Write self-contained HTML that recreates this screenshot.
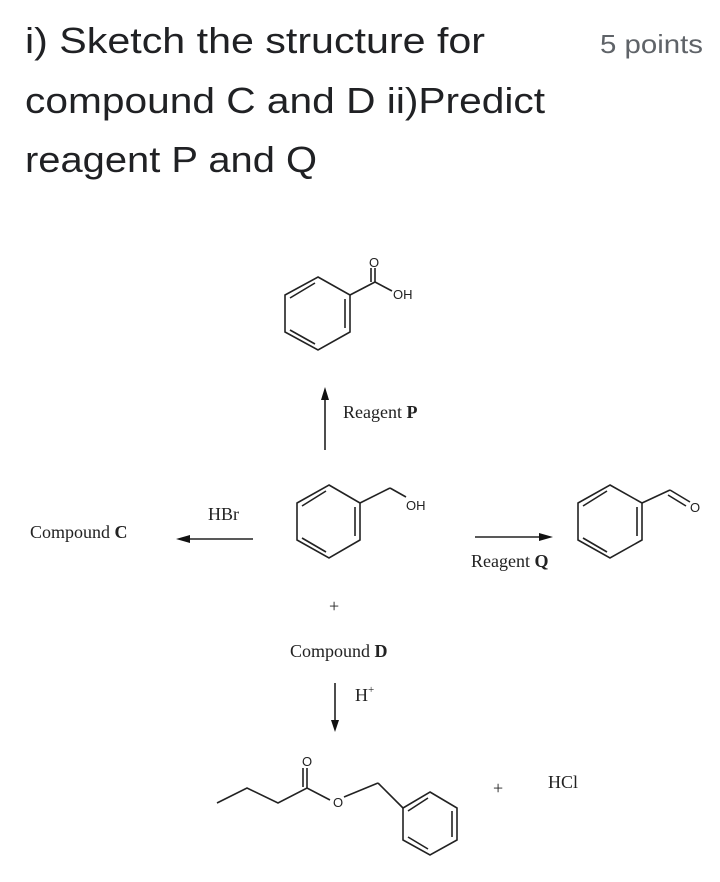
<!DOCTYPE html>
<html><head><meta charset="utf-8"><style>
html,body{margin:0;padding:0;background:#fff;}
svg{display:block;}
.h{font-family:"Liberation Sans",sans-serif;fill:#202124;}
.t{font-family:"Liberation Serif",serif;font-size:18px;fill:#222;}
.s{font-family:"Liberation Sans",sans-serif;font-size:13px;fill:#222;}
</style></head><body>
<svg width="720" height="882" viewBox="0 0 720 882" xmlns="http://www.w3.org/2000/svg">
<text class="h" x="25" y="53" font-size="36" textLength="460" lengthAdjust="spacingAndGlyphs">i) Sketch the structure for</text>
<text class="h" x="25" y="113" font-size="36" textLength="520" lengthAdjust="spacingAndGlyphs">compound C and D ii)Predict</text>
<text class="h" x="25" y="172" font-size="36" textLength="292" lengthAdjust="spacingAndGlyphs">reagent P and Q</text>
<text x="600" y="53" font-family="Liberation Sans,sans-serif" font-size="26" fill="#5f6368" textLength="103" lengthAdjust="spacingAndGlyphs">5 points</text>

<g stroke="#222" stroke-width="1.6" fill="none">
<polygon points="318,277 350,295 350,332 318,350 285,332 285,295"/>
<line x1="345" y1="299" x2="345" y2="328"/><line x1="315" y1="344" x2="290" y2="330"/><line x1="290" y1="298" x2="315" y2="283"/>
<line x1="350" y1="295" x2="375" y2="282"/><line x1="375" y1="282" x2="375" y2="268"/><line x1="371" y1="282" x2="371" y2="268"/>
<line x1="375" y1="282" x2="392" y2="291"/>
<polygon points="329,485 360,503 360,540 329,558 297,540 297,503"/>
<line x1="355" y1="507" x2="355" y2="536"/><line x1="326" y1="552" x2="302" y2="538"/><line x1="302" y1="506" x2="326" y2="491"/>
<line x1="360" y1="503" x2="390" y2="488"/><line x1="390" y1="488" x2="406" y2="497"/>
<polygon points="610,485 642,503 642,540 610,558 578,540 578,503"/>
<line x1="637" y1="507" x2="637" y2="536"/><line x1="607" y1="552" x2="583" y2="538"/><line x1="583" y1="506" x2="607" y2="491"/>
<line x1="642" y1="503" x2="670" y2="490"/><line x1="670" y1="490" x2="690" y2="502"/><line x1="668" y1="495" x2="686" y2="506"/>
<polyline points="217,803 247,788 278,803 307,788 330,800"/>
<line x1="307" y1="788" x2="307" y2="768"/><line x1="303" y1="787" x2="303" y2="768"/>
<line x1="344" y1="797" x2="378" y2="783"/><line x1="378" y1="783" x2="403" y2="808"/>
<polygon points="430,792 457,808 457,840 430,855 403,840 403,808"/>
<line x1="452" y1="811" x2="452" y2="837"/><line x1="428" y1="849" x2="408" y2="837"/><line x1="408" y1="811" x2="428" y2="798"/>
<line x1="325" y1="450" x2="325" y2="396"/>
<line x1="253" y1="539" x2="186" y2="539"/>
<line x1="475" y1="537" x2="544" y2="537"/>
<line x1="335" y1="683" x2="335" y2="723"/>
</g>
<g fill="#111">
<polygon points="325,387 321,400 329,400"/>
<polygon points="176,539 190,535 190,543"/>
<polygon points="553,537 539,533 539,541"/>
<polygon points="335,732 331,720 339,720"/>
</g>
<text class="s" x="369" y="267">O</text>
<text class="s" x="393" y="299">OH</text>
<text class="s" x="406" y="510">OH</text>
<text class="s" x="690" y="512">O</text>
<text class="s" x="302" y="766">O</text>
<text class="s" x="333" y="807">O</text>

<text class="t" x="343" y="418">Reagent <tspan font-weight="bold">P</tspan></text>
<text class="t" x="208" y="520">HBr</text>
<text class="t" x="30" y="538">Compound <tspan font-weight="bold">C</tspan></text>
<text class="t" x="471" y="567">Reagent <tspan font-weight="bold">Q</tspan></text>
<text class="t" x="329" y="612">+</text>
<text class="t" x="290" y="657">Compound <tspan font-weight="bold">D</tspan></text>
<text class="t" x="355" y="701">H<tspan font-size="11" dy="-8">+</tspan></text>
<text class="t" x="493" y="794">+</text>
<text class="t" x="548" y="788">HCl</text>
</svg>
</body></html>
